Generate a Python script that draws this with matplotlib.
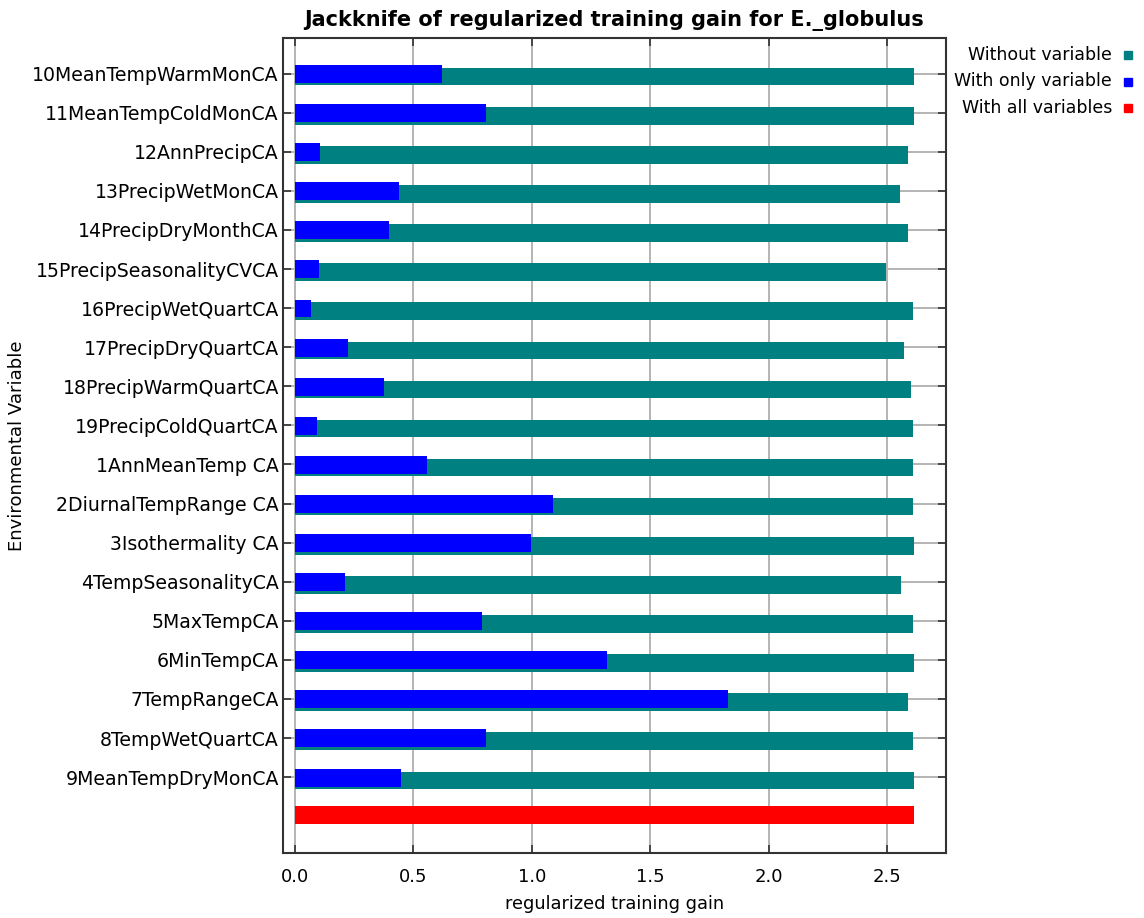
import matplotlib
matplotlib.use("Agg")
import matplotlib.pyplot as plt
from matplotlib.patches import Rectangle
import numpy as np

plt.rcParams['font.family'] = ['DejaVu Sans']

variables = ["10MeanTempWarmMonCA", "11MeanTempColdMonCA", "12AnnPrecipCA",
             "13PrecipWetMonCA", "14PrecipDryMonthCA", "15PrecipSeasonalityCVCA",
             "16PrecipWetQuartCA", "17PrecipDryQuartCA", "18PrecipWarmQuartCA",
             "19PrecipColdQuartCA", "1AnnMeanTemp CA", "2DiurnalTempRange CA",
             "3Isothermality CA", "4TempSeasonalityCA", "5MaxTempCA",
             "6MinTempCA", "7TempRangeCA", "8TempWetQuartCA", "9MeanTempDryMonCA"]
without_var = [2.613, 2.613, 2.587, 2.551, 2.587, 2.496, 2.608, 2.571, 2.600,
               2.608, 2.608, 2.608, 2.613, 2.557, 2.608, 2.613, 2.587, 2.608, 2.613]
only_var = [0.621, 0.808, 0.107, 0.440, 0.398, 0.101, 0.066, 0.225, 0.378,
            0.093, 0.558, 1.087, 0.997, 0.211, 0.789, 1.316, 1.829, 0.808, 0.447]
all_vars = 2.613

teal = '#008080'
blue = '#0000ff'
red = '#ff0000'

fig = plt.figure(figsize=(11.44, 9.18), dpi=100)
ax = fig.add_axes([0.2474, 0.0708, 0.5795, 0.8878])

pos = np.arange(len(variables))
ax.barh(pos + 0.08, without_var, height=0.45, color=teal, zorder=2)
ax.barh(pos + 0.01, only_var, height=0.46, color=blue, zorder=3)
ax.barh(len(variables) - 0.04, all_vars, height=0.46, color=red, zorder=3)

ax.set_xlim(-0.05, 2.747)
ax.set_ylim(19.94, -0.91)
ax.set_yticks(pos)
ax.set_yticklabels(variables, fontsize=13.6)
ax.set_xticks([0.0, 0.5, 1.0, 1.5, 2.0, 2.5])
ax.set_xticklabels(["0.0", "0.5", "1.0", "1.5", "2.0", "2.5"], fontsize=13)
ax.tick_params(axis='both', direction='in', length=6, width=1.2,
               top=True, right=True, color='#333333')
ax.tick_params(axis='y', pad=3)
ax.tick_params(axis='x', pad=11)
ax.grid(True, color='#b4b4b4', linewidth=1.4, zorder=0)
ax.set_axisbelow(True)
for s in ax.spines.values():
    s.set_linewidth(1.5)
    s.set_color('#333333')

ax.set_xlabel("regularized training gain", fontsize=12.8, labelpad=6)
ax.set_ylabel("Environmental Variable", fontsize=13)
ax.yaxis.set_label_coords(-0.388, 0.5)
ax.set_title("Jackknife of regularized training gain for E._globulus",
             fontsize=15, fontweight='bold', pad=9)

# legend at the top right
legend_items = [("Without variable", teal), ("With only variable", blue),
                ("With all variables", red)]
for i, (lab, col) in enumerate(legend_items):
    yy = 1 - (55 + i * 26.5) / 918
    fig.text(1112 / 1144, yy, lab, ha='right', va='center', fontsize=12.5)
    fig.patches.append(Rectangle((1124 / 1144, yy - 4 / 918), 8 / 1144, 8 / 918,
                                 transform=fig.transFigure, color=col))

fig.savefig("out.png", dpi=100)
